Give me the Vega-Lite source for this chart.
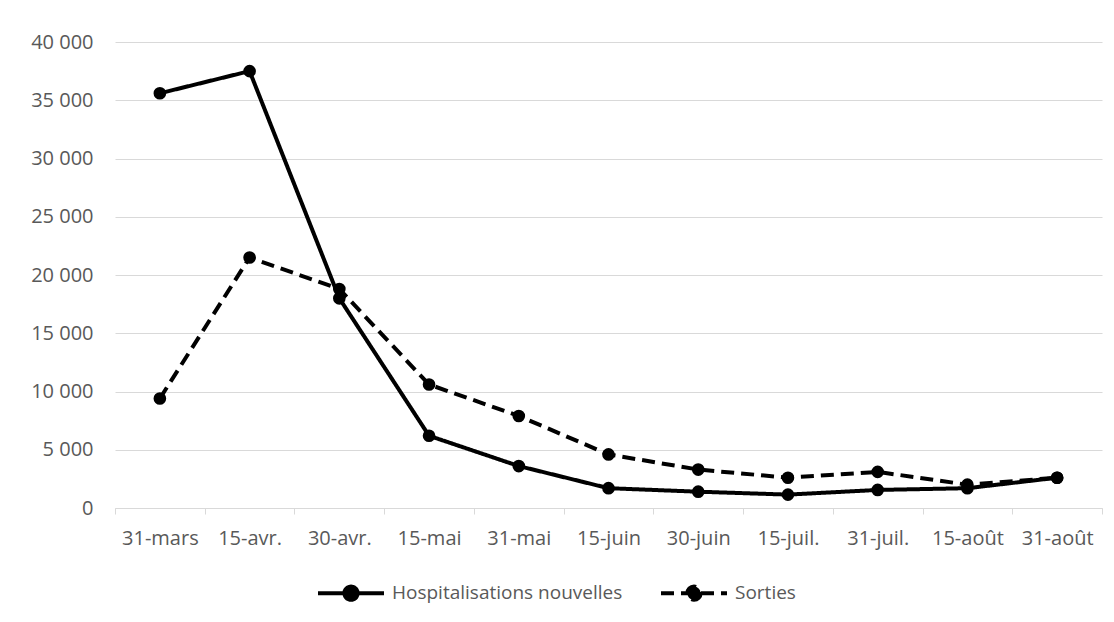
{
  "$schema": "https://vega.github.io/schema/vega-lite/v6.json",
  "autosize": {"type": "none"},
  "width": 987,
  "height": 466,
  "padding": {"left": 115, "top": 42, "right": 12, "bottom": 114},
  "background": "white",
  "config": {
    "font": "Open Sans",
    "view": {"stroke": null},
    "axis": {"labelColor": "#595959", "labelFontSize": 20, "labelFont": "Open Sans"},
    "legend": {"labelColor": "#595959", "labelFontSize": 19, "labelFont": "Open Sans", "labelLimit": 400}
  },
  "data": {
    "values": [
      {"date": "31-mars", "serie": "Hospitalisations nouvelles", "valeur": 35600},
      {"date": "15-avr.", "serie": "Hospitalisations nouvelles", "valeur": 37500},
      {"date": "30-avr.", "serie": "Hospitalisations nouvelles", "valeur": 18000},
      {"date": "15-mai", "serie": "Hospitalisations nouvelles", "valeur": 6200},
      {"date": "31-mai", "serie": "Hospitalisations nouvelles", "valeur": 3600},
      {"date": "15-juin", "serie": "Hospitalisations nouvelles", "valeur": 1700},
      {"date": "30-juin", "serie": "Hospitalisations nouvelles", "valeur": 1400},
      {"date": "15-juil.", "serie": "Hospitalisations nouvelles", "valeur": 1150},
      {"date": "31-juil.", "serie": "Hospitalisations nouvelles", "valeur": 1550},
      {"date": "15-août", "serie": "Hospitalisations nouvelles", "valeur": 1700},
      {"date": "31-août", "serie": "Hospitalisations nouvelles", "valeur": 2600},
      {"date": "31-mars", "serie": "Sorties", "valeur": 9400},
      {"date": "15-avr.", "serie": "Sorties", "valeur": 21500},
      {"date": "30-avr.", "serie": "Sorties", "valeur": 18800},
      {"date": "15-mai", "serie": "Sorties", "valeur": 10600},
      {"date": "31-mai", "serie": "Sorties", "valeur": 7900},
      {"date": "15-juin", "serie": "Sorties", "valeur": 4600},
      {"date": "30-juin", "serie": "Sorties", "valeur": 3300},
      {"date": "15-juil.", "serie": "Sorties", "valeur": 2600},
      {"date": "31-juil.", "serie": "Sorties", "valeur": 3100},
      {"date": "15-août", "serie": "Sorties", "valeur": 2000},
      {"date": "31-août", "serie": "Sorties", "valeur": 2600}
    ]
  },
  "mark": {"type": "line", "strokeWidth": 4, "color": "black", "point": {"filled": true, "size": 160, "color": "black"}},
  "encoding": {
    "x": {
      "field": "date", "type": "ordinal", "sort": null, "bandPosition": 0.5,
      "scale": {"type": "band", "paddingInner": 0, "paddingOuter": 0},
      "axis": {"title": null, "labelAngle": 0, "tickBand": "extent", "domainColor": "#d9d9d9", "tickColor": "#d9d9d9", "tickSize": 6, "labelPadding": 14, "grid": false}
    },
    "y": {
      "field": "valeur", "type": "quantitative",
      "scale": {"domain": [0, 40000]},
      "axis": {"title": null, "values": [0, 5000, 10000, 15000, 20000, 25000, 30000, 35000, 40000], "labelOverlap": false, "domain": false, "ticks": false, "gridColor": "#d9d9d9", "labelPadding": 22,
        "labelExpr": "replace(format(datum.value, ','), ',', ' ')"}
    },
    "strokeDash": {
      "field": "serie", "type": "nominal",
      "scale": {"domain": ["Hospitalisations nouvelles", "Sorties"], "range": [[1, 0], [13, 7]]},
      "legend": {"title": null, "orient": "none", "direction": "horizontal", "legendX": 201, "legendY": 516,
        "symbolType": "M-1,0L1,0M0.2,0A0.2,0.2,0,1,1,-0.2,0A0.2,0.2,0,1,1,0.2,0Z",
        "symbolSize": 4356, "symbolStrokeWidth": 4, "symbolStrokeColor": "black", "symbolFillColor": "black",
        "columnPadding": 30, "labelOffset": 6,
        "encode": {"symbols": {"update": {"stroke": {"value": "black"}, "strokeWidth": {"value": 4}, "fill": {"value": "black"}, "opacity": {"value": 1}}}}}
    }
  }
}
